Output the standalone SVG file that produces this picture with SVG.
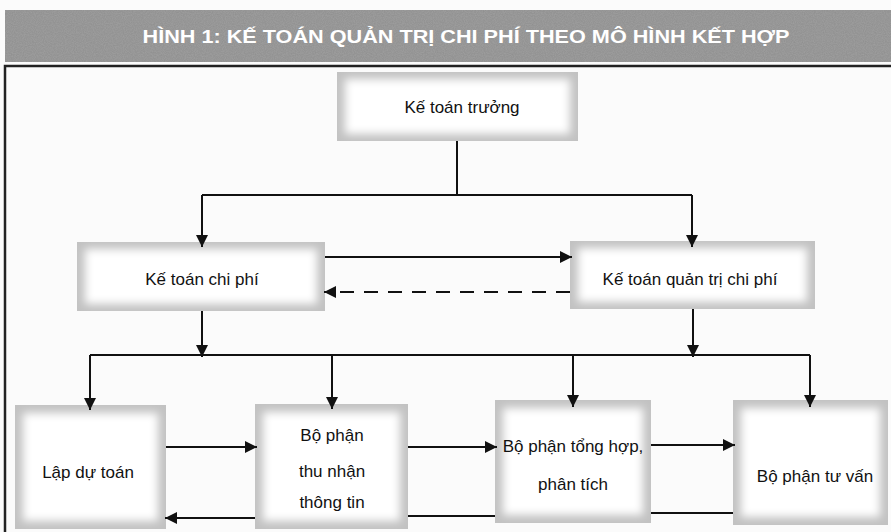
<svg xmlns="http://www.w3.org/2000/svg" width="891" height="532" viewBox="0 0 891 532">
<style>
.lbl{font-family:"Liberation Sans",Arial,sans-serif;font-size:17px;fill:#111;text-anchor:middle}
.ln{fill:none;stroke:#111;stroke-width:2}
.edge{fill:#c2c2c2}
.core{fill:#fff;filter:url(#soft)}
</style>
<defs>
<filter id="soft" x="-20%" y="-20%" width="140%" height="140%"><feGaussianBlur stdDeviation="4"/></filter>
<filter id="grain" x="0" y="0" width="100%" height="100%">
<feTurbulence type="fractalNoise" baseFrequency="0.9" numOctaves="2" seed="3" result="n"/>
<feColorMatrix in="n" type="matrix" values="0 0 0 0 0.5  0 0 0 0 0.5  0 0 0 0 0.5  0 0 0 0.35 0" result="g"/>
<feComposite in="g" in2="SourceGraphic" operator="in" result="gm"/>
<feMerge><feMergeNode in="SourceGraphic"/><feMergeNode in="gm"/></feMerge>
</filter>
<marker id="ah" viewBox="0 0 10 10" refX="10" refY="5" markerWidth="12" markerHeight="12" markerUnits="userSpaceOnUse" orient="auto"><path d="M0,0 L10,5 L0,10 z" fill="#111"/></marker>
</defs>
<rect width="891" height="532" fill="#fbfbfb"/>
<g id="banner">
<rect x="5" y="10" width="886" height="52" fill="#8e8e8e" filter="url(#grain)"/>
<text x="466" y="43" font-family="'Liberation Sans',Arial,sans-serif" font-weight="700" font-size="19" fill="#fff" text-anchor="middle" textLength="647" lengthAdjust="spacingAndGlyphs">HÌNH 1: KẾ TOÁN QUẢN TRỊ CHI PHÍ THEO MÔ HÌNH KẾT HỢP</text>
</g>
<g id="frame">
<path d="M891,66 H5 V532" fill="none" stroke="#222" stroke-width="2.5"/>
</g>
<g id="n-ketoantruong">
<rect class="edge" x="337" y="72" width="241" height="69"/>
<rect class="core" x="345" y="79" width="225" height="55"/>
<text class="lbl" x="462" y="113">Kế toán trưởng</text>
</g>
<g id="n-ketoanchiphi">
<rect class="edge" x="77" y="242" width="248" height="69"/>
<rect class="core" x="85" y="249" width="232" height="55"/>
<text class="lbl" x="202" y="285">Kế toán chi phí</text>
</g>
<g id="n-ketoanquantri">
<rect class="edge" x="570" y="241" width="245" height="68"/>
<rect class="core" x="578" y="248" width="229" height="54"/>
<text class="lbl" x="690" y="285">Kế toán quản trị chi phí</text>
</g>
<g id="n-lapdutoan">
<rect class="edge" x="15" y="405" width="151" height="124"/>
<rect class="core" x="23" y="413" width="135" height="108"/>
<text class="lbl" x="88" y="478">Lập dự toán</text>
</g>
<g id="n-thunhan">
<rect class="edge" x="255" y="404" width="153" height="125"/>
<rect class="core" x="263" y="412" width="137" height="109"/>
<text class="lbl" x="332" y="441">Bộ phận</text>
<text class="lbl" x="332" y="477">thu nhận</text>
<text class="lbl" x="332" y="508">thông tin</text>
</g>
<g id="n-tonghop">
<rect class="edge" x="495" y="400" width="156" height="123"/>
<rect class="core" x="503" y="408" width="140" height="107"/>
<text class="lbl" x="573" y="452">Bộ phận tổng hợp,</text>
<text class="lbl" x="573" y="490">phân tích</text>
</g>
<g id="n-tuvan">
<rect class="edge" x="733" y="400" width="155" height="125"/>
<rect class="core" x="741" y="408" width="139" height="109"/>
<text class="lbl" x="815" y="482">Bộ phận tư vấn</text>
</g>
<g id="connectors">
<path class="ln" d="M457,141 V195"/>
<path class="ln" d="M202,195 H692"/>
<path class="ln" d="M202,195 V247" marker-end="url(#ah)"/>
<path class="ln" d="M692,195 V247" marker-end="url(#ah)"/>
<path class="ln" d="M325,257 H572" marker-end="url(#ah)"/>
<path class="ln" d="M570,292 H324" stroke-dasharray="14 10" marker-end="url(#ah)"/>
<path class="ln" d="M202,311 V357" marker-end="url(#ah)"/>
<path class="ln" d="M693,309 V357" marker-end="url(#ah)"/>
<path class="ln" d="M90,355 H810"/>
<path class="ln" d="M90,355 V410" marker-end="url(#ah)"/>
<path class="ln" d="M332,355 V409" marker-end="url(#ah)"/>
<path class="ln" d="M573,355 V407" marker-end="url(#ah)"/>
<path class="ln" d="M810,355 V407" marker-end="url(#ah)"/>
<path class="ln" d="M166,447 H257" marker-end="url(#ah)"/>
<path class="ln" d="M408,447 H497" marker-end="url(#ah)"/>
<path class="ln" d="M651,445 H735" marker-end="url(#ah)"/>
<path class="ln" d="M733,513 H651"/>
<path class="ln" d="M495,516 H408"/>
<path class="ln" d="M255,518 H165" marker-end="url(#ah)"/>
</g>
</svg>
